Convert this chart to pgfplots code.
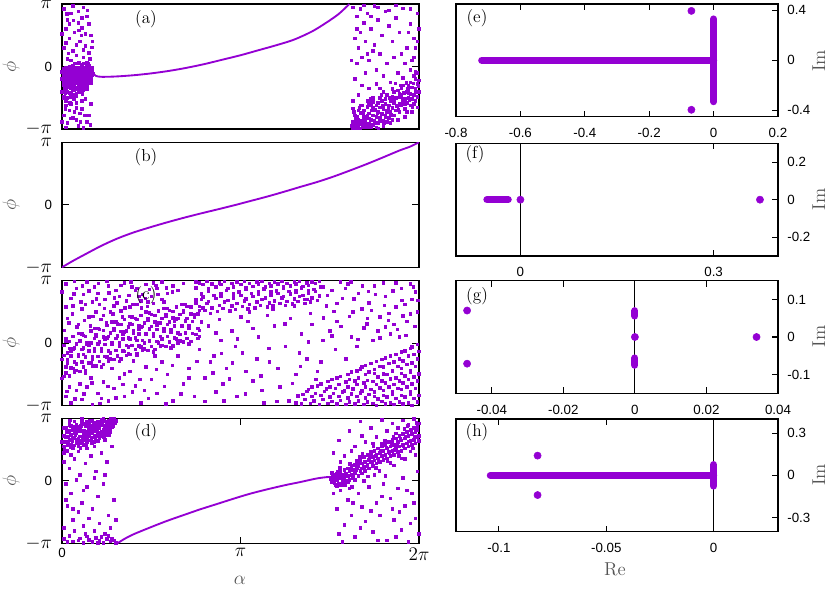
\documentclass[border=0pt]{standalone}
\usepackage{fontspec}
\usepackage{pgfplots}
\pgfplotsset{compat=1.18}
\newfontfamily\lsf{Liberation Sans}
\definecolor{dviolet}{RGB}{148,0,211}
\definecolor{labgray}{RGB}{85,85,85}
\newcommand{\tickf}{\lsf\fontsize{10}{12}\selectfont}
\newcommand{\labf}{\fontsize{14}{16}\selectfont}
\newcommand{\panf}{\fontsize{13}{15}\selectfont}
\newcommand{\bpi}[1]{{\fontsize{14}{16}\selectfont$#1$}}

\pgfplotsset{
  leftax/.style={scale only axis, width=267.75pt, height=93.75pt, anchor=north west,
    xmin=0, xmax=2, ymin=-1, ymax=1, ytick={-1,0,1}, yticklabels={\bpi{-\pi},0,\bpi{\pi}},
    xtick=\empty, tick align=inside, major tick length=5pt,
    axis line style={line width=0.9pt}, tick style={black, line width=0.8pt},
    tick label style={font=\tickf}, yticklabel style={xshift=-4pt}},
  rightax/.style={scale only axis, width=241.5pt, height=84.5pt, anchor=north west,
    tick align=inside, major tick length=4.5pt, ytick pos=right, yticklabel pos=right,
    scaled ticks=false,
    axis line style={line width=0.9pt}, tick style={black, line width=0.8pt},
    tick label style={font=\tickf}, yticklabel style={anchor=west, xshift=3.5pt},
    xticklabel style={yshift=-5pt}},
  scat/.style={only marks, mark=square*, mark size=0.95pt, dviolet, mark options={draw=none}},
  curve/.style={dviolet, line width=1.4pt, smooth, no marks},
  bar/.style={dviolet, line width=5.4pt, line cap=round, no marks},
  dots/.style={only marks, mark=*, mark size=2.7pt, dviolet},
}

\begin{document}
\begin{tikzpicture}
\useasboundingbox (0,0) rectangle (622.5pt,-441.75pt);

% ---------- (a)
\begin{axis}[leftax, at={(46.5pt,-3pt)}]
\addplot[scat] table[row sep=\\] {x y\\
0.01 -0.12\\ 0.03 -0.25\\ 0.05 -0.05\\ 0.07 -0.31\\ 0.09 -0.18\\ 0.11 -0.08\\ 0.13 -0.02\\ 0.15 -0.10\\ 0.16 -0.06\\ 0.02 -0.38\\
0.04 -0.15\\ 0.06 -0.22\\ 0.08 -0.02\\ 0.10 -0.27\\ 0.12 -0.14\\ 0.14 -0.19\\ 0.16 -0.12\\ 0.17 -0.09\\ 0.01 -0.30\\ 0.03 -0.08\\
0.05 -0.35\\ 0.07 -0.12\\ 0.09 -0.40\\ 0.11 -0.21\\ 0.13 -0.09\\ 0.15 0.02\\ 0.00 -0.20\\ 0.02 -0.02\\ 0.04 -0.42\\ 0.06 -0.17\\
0.08 -0.26\\ 0.10 -0.11\\ 0.12 -0.33\\ 0.14 -0.04\\ 0.16 -0.16\\ 0.01 -0.48\\ 0.03 -0.18\\ 0.05 -0.28\\ 0.07 -0.06\\ 0.09 -0.15\\
0.11 0.03\\ 0.13 -0.22\\ 0.15 -0.14\\ 0.17 -0.04\\ 0.02 -0.22\\ 0.04 -0.32\\ 0.06 0.01\\ 0.08 -0.36\\ 0.10 -0.20\\ 0.12 -0.05\\
0.14 -0.12\\ 0.16 -0.01\\ 0.00 -0.40\\ 0.02 -0.10\\ 0.04 -0.06\\ 0.06 -0.45\\ 0.08 -0.14\\ 0.10 -0.34\\ 0.12 0.05\\ 0.14 -0.26\\
0.15 -0.07\\ 0.01 -0.04\\ 0.03 -0.40\\ 0.05 -0.19\\ 0.07 -0.24\\ 0.09 -0.05\\ 0.11 -0.29\\ 0.13 -0.15\\ 0.15 -0.20\\ 0.17 -0.13\\
0.02 -0.30\\ 0.04 -0.23\\ 0.06 -0.09\\ 0.08 -0.20\\ 0.10 -0.02\\ 0.12 -0.24\\ 0.14 0.06\\ 0.16 -0.21\\ 0.01 -0.16\\ 0.03 -0.50\\
0.05 -0.12\\ 0.07 -0.38\\ 0.09 -0.24\\ 0.11 -0.13\\ 0.13 -0.30\\ 0.15 -0.03\\ 0.00 -0.08\\ 0.02 -0.55\\ 0.04 0.00\\ 0.06 -0.30\\
0.08 -0.44\\ 0.10 -0.07\\ 0.12 -0.18\\ 0.14 -0.09\\ 0.16 -0.08\\
0.115 -0.17\\ 0.148 -0.05\\ 0.162 -0.13\\ 0.127 -0.26\\ 0.093 -0.09\\ 0.071 -0.19\\ 0.154 -0.24\\ 0.138 0.01\\ 0.166 -0.02\\ 0.104 -0.31\\
0.083 -0.22\\ 0.057 -0.11\\ 0.122 -0.08\\ 0.145 -0.15\\ 0.168 -0.07\\ 0.131 -0.20\\ 0.109 0.00\\ 0.087 -0.33\\ 0.064 -0.27\\ 0.043 -0.08\\
0.026 -0.19\\ 0.012 -0.35\\ 0.035 -0.29\\ 0.052 -0.41\\ 0.077 -0.47\\ 0.098 -0.16\\ 0.119 -0.38\\ 0.141 -0.31\\ 0.159 -0.18\\ 0.171 -0.11\\
0.006 -0.24\\ 0.018 -0.43\\ 0.039 -0.13\\ 0.061 -0.37\\ 0.084 -0.04\\ 0.106 -0.23\\ 0.128 -0.12\\ 0.151 -0.09\\ 0.164 -0.20\\ 0.113 -0.44\\
0.092 -0.28\\ 0.069 -0.02\\ 0.048 -0.20\\ 0.031 -0.33\\ 0.015 -0.07\\ 0.124 -0.01\\ 0.143 -0.23\\ 0.157 -0.04\\ 0.136 -0.11\\ 0.101 -0.14\\
0.079 -0.10\\ 0.056 -0.25\\ 0.022 -0.28\\ 0.008 -0.51\\ 0.044 -0.58\\ 0.067 -0.52\\ 0.095 0.06\\ 0.117 -0.27\\ 0.139 -0.36\\ 0.161 -0.27\\
0.147 0.04\\ 0.133 -0.05\\ 0.102 -0.40\\ 0.074 -0.14\\ 0.049 -0.48\\ 0.028 -0.12\\ 0.011 -0.20\\ 0.086 -0.19\\ 0.125 -0.16\\ 0.152 -0.12\\
0.01 0.92\\ 0.05 0.85\\ 0.12 0.95\\ 0.03 0.75\\ 0.09 0.70\\ 0.14 0.80\\ 0.02 0.60\\ 0.07 0.55\\ 0.11 0.62\\ 0.16 0.50\\
0.04 0.45\\ 0.10 0.40\\ 0.13 0.33\\ 0.01 0.30\\ 0.06 0.25\\ 0.08 0.18\\ 0.15 0.22\\ 0.03 0.12\\ 0.12 0.15\\ 0.05 0.10\\
0.02 0.38\\ 0.09 0.88\\ 0.15 0.68\\ 0.06 0.97\\ 0.11 0.78\\ 0.00 0.52\\ 0.17 0.40\\ 0.04 0.68\\ 0.13 0.52\\ 0.08 0.35\\
0.034 0.21\\ 0.072 0.05\\ 0.118 0.27\\ 0.155 0.12\\ 0.093 0.58\\ 0.027 0.84\\ 0.142 0.90\\ 0.064 0.74\\ 0.108 0.50\\ 0.166 0.31\\
0.02 -0.62\\ 0.08 -0.58\\ 0.13 -0.52\\ 0.04 -0.70\\ 0.11 -0.68\\ 0.16 -0.60\\ 0.01 -0.78\\ 0.06 -0.82\\ 0.10 -0.75\\ 0.14 -0.88\\
0.03 -0.90\\ 0.09 -0.95\\ 0.12 -0.98\\ 0.05 -0.60\\ 0.07 -0.72\\ 0.00 -0.88\\ 0.15 -0.78\\ 0.02 -0.97\\ 0.11 -0.55\\ 0.08 -0.85\\
0.019 -0.68\\ 0.081 -0.66\\ 0.127 -0.78\\ 0.158 -0.93\\ 0.046 -0.83\\ 0.103 -0.88\\
1.63 -0.98\\ 1.64 -0.90\\ 1.65 -0.95\\ 1.66 -0.85\\ 1.67 -0.99\\ 1.68 -0.92\\ 1.69 -0.80\\ 1.70 -0.88\\ 1.71 -0.96\\ 1.72 -0.75\\
1.73 -0.85\\ 1.74 -0.93\\ 1.75 -0.70\\ 1.76 -0.80\\ 1.77 -0.90\\ 1.78 -0.65\\ 1.79 -0.76\\ 1.80 -0.86\\ 1.81 -0.60\\ 1.82 -0.72\\
1.83 -0.82\\ 1.84 -0.55\\ 1.85 -0.66\\ 1.86 -0.78\\ 1.87 -0.50\\ 1.88 -0.62\\ 1.89 -0.72\\ 1.90 -0.45\\ 1.91 -0.56\\ 1.92 -0.68\\
1.93 -0.40\\ 1.94 -0.50\\ 1.95 -0.62\\ 1.96 -0.33\\ 1.97 -0.45\\ 1.98 -0.55\\ 1.99 -0.28\\ 2.00 -0.40\\
1.64 -0.78\\ 1.66 -0.70\\ 1.68 -0.62\\ 1.70 -0.97\\ 1.72 -0.58\\ 1.74 -0.66\\ 1.76 -0.97\\ 1.78 -0.50\\ 1.80 -0.95\\ 1.82 -0.45\\
1.84 -0.90\\ 1.86 -0.40\\ 1.88 -0.85\\ 1.90 -0.35\\ 1.92 -0.80\\ 1.94 -0.30\\ 1.96 -0.72\\ 1.98 -0.20\\ 1.99 -0.65\\ 1.97 -0.15\\
1.95 -0.25\\ 1.93 -0.58\\ 1.91 -0.30\\ 1.89 -0.48\\ 1.87 -0.70\\ 1.85 -0.48\\ 1.83 -0.62\\ 1.81 -0.78\\ 1.79 -0.55\\ 1.77 -0.72\\
1.75 -0.86\\ 1.73 -0.62\\ 1.71 -0.78\\ 1.69 -0.95\\ 1.67 -0.74\\ 1.65 -0.82\\ 1.63 -0.88\\ 1.62 -0.95\\
1.66 -0.92\\ 1.70 -0.82\\ 1.74 -0.78\\ 1.78 -0.82\\ 1.82 -0.88\\ 1.86 -0.58\\ 1.90 -0.62\\ 1.94 -0.42\\ 1.98 -0.35\\ 1.99 -0.48\\
1.96 -0.52\\ 1.92 -0.52\\ 1.88 -0.38\\ 1.84 -0.72\\ 1.80 -0.68\\ 1.76 -0.62\\ 1.72 -0.92\\ 1.68 -0.86\\ 1.64 -0.96\\ 2.00 -0.22\\
1.97 -0.60\\ 1.93 -0.72\\ 1.89 -0.60\\ 1.85 -0.85\\ 1.81 -0.52\\ 1.77 -0.58\\ 1.73 -0.97\\ 1.69 -0.70\\ 1.65 -0.99\\ 1.99 -0.10\\
1.95 -0.05\\ 1.91 -0.18\\
1.625 -0.91\\ 1.643 -0.84\\ 1.658 -0.97\\ 1.672 -0.88\\ 1.687 -0.76\\ 1.704 -0.93\\ 1.718 -0.83\\ 1.733 -0.70\\ 1.749 -0.91\\ 1.766 -0.74\\
1.781 -0.87\\ 1.797 -0.62\\ 1.812 -0.81\\ 1.828 -0.66\\ 1.843 -0.77\\ 1.859 -0.52\\ 1.874 -0.63\\ 1.889 -0.43\\ 1.905 -0.51\\ 1.921 -0.60\\
1.936 -0.36\\ 1.952 -0.44\\ 1.967 -0.27\\ 1.983 -0.40\\ 1.996 -0.31\\ 1.636 -0.72\\ 1.665 -0.66\\ 1.694 -0.87\\ 1.727 -0.52\\ 1.756 -0.69\\
1.788 -0.45\\ 1.819 -0.71\\ 1.851 -0.36\\ 1.883 -0.69\\ 1.914 -0.42\\ 1.946 -0.54\\ 1.978 -0.08\\ 1.962 -0.64\\ 1.928 -0.26\\ 1.897 -0.30\\
1.866 -0.27\\ 1.835 -0.50\\ 1.804 -0.91\\ 1.772 -0.99\\ 1.741 -0.56\\ 1.711 -0.64\\ 1.681 -0.97\\ 1.651 -0.80\\ 1.629 -0.67\\
1.63 0.95\\ 1.65 0.80\\ 1.67 0.92\\ 1.69 0.70\\ 1.71 0.85\\ 1.73 0.60\\ 1.75 0.97\\ 1.77 0.75\\ 1.79 0.50\\ 1.81 0.88\\
1.83 0.65\\ 1.85 0.40\\ 1.87 0.78\\ 1.89 0.55\\ 1.91 0.93\\ 1.93 0.30\\ 1.95 0.68\\ 1.97 0.45\\ 1.99 0.85\\ 1.64 0.45\\
1.66 0.30\\ 1.68 0.15\\ 1.70 0.40\\ 1.72 0.10\\ 1.74 0.25\\ 1.76 -0.05\\ 1.78 0.20\\ 1.80 -0.15\\ 1.82 0.05\\ 1.84 -0.25\\
1.86 0.15\\ 1.88 -0.10\\ 1.90 0.20\\ 1.92 0.05\\ 1.94 0.55\\ 1.96 0.10\\ 1.98 0.30\\ 2.00 0.60\\ 1.64 -0.20\\ 1.66 -0.45\\
1.68 -0.30\\ 1.70 -0.10\\ 1.72 -0.35\\ 1.74 -0.50\\ 1.76 -0.28\\ 1.78 -0.35\\ 1.80 -0.40\\ 1.62 0.10\\ 1.63 -0.55\\ 1.65 0.60\\
1.67 0.55\\ 1.69 0.98\\ 1.71 0.20\\ 1.73 0.80\\ 1.75 0.35\\ 1.77 0.95\\ 1.83 0.90\\ 1.87 0.98\\ 1.95 0.92\\ 1.97 0.15\\
1.99 0.40\\ 1.65 0.05\\ 1.71 -0.55\\ 1.67 -0.62\\
};
\addplot[curve] coordinates {(0.174,-0.11) (0.19,-0.15) (0.22,-0.165) (0.30,-0.16) (0.40,-0.14) (0.50,-0.11) (0.60,-0.07) (0.70,-0.02) (0.80,0.04) (0.90,0.11) (1.00,0.18) (1.10,0.26) (1.20,0.34) (1.30,0.43) (1.40,0.56) (1.48,0.70) (1.55,0.84) (1.61,1.0)};
\end{axis}

% ---------- (b)
\begin{axis}[leftax, at={(46.5pt,-106.7pt)}]
\addplot[curve] coordinates {(0,-1) (0.06,-0.90) (0.125,-0.80) (0.218,-0.66) (0.31,-0.54) (0.404,-0.44) (0.50,-0.355) (0.590,-0.28) (0.68,-0.21) (0.776,-0.14) (0.87,-0.075) (0.962,-0.01) (1.055,0.06) (1.148,0.13) (1.24,0.205) (1.334,0.285) (1.43,0.365) (1.520,0.45) (1.61,0.545) (1.706,0.65) (1.80,0.76) (1.892,0.87) (1.95,0.93) (2,1)};
\end{axis}

% ---------- (c)
\begin{axis}[leftax, at={(46.5pt,-210.5pt)}]
\addplot[scat] table[row sep=\\] {x y\\
0.01 -0.53\\ 0.02 -0.38\\ 0.00 -0.26\\ 0.03 -0.15\\ 0.01 -0.03\\ 0.02 0.07\\ 0.02 -0.47\\ 0.03 -0.31\\ 0.01 -0.19\\ 0.04 -0.08\\
0.02 0.04\\ 0.00 -0.56\\ 0.04 -0.52\\ 0.05 -0.39\\ 0.03 -0.26\\ 0.06 -0.09\\ 0.04 0.03\\ 0.05 -0.20\\ 0.06 -0.40\\ 0.07 -0.30\\
0.05 -0.12\\ 0.08 -0.01\\ 0.06 0.11\\ 0.07 -0.46\\ 0.08 -0.43\\ 0.09 -0.20\\ 0.07 -0.07\\ 0.10 0.03\\ 0.08 -0.33\\ 0.09 0.16\\
0.10 -0.45\\ 0.11 -0.30\\ 0.09 -0.18\\ 0.12 -0.07\\ 0.10 0.05\\ 0.11 0.15\\ 0.12 -0.38\\ 0.13 -0.22\\ 0.11 -0.10\\ 0.14 0.01\\
0.12 0.13\\ 0.13 -0.47\\ 0.13 -0.44\\ 0.15 -0.31\\ 0.12 -0.18\\ 0.14 -0.01\\ 0.13 0.11\\ 0.15 -0.12\\ 0.16 -0.31\\ 0.17 -0.21\\
0.15 -0.03\\ 0.18 0.08\\ 0.16 0.20\\ 0.17 -0.37\\ 0.17 -0.35\\ 0.18 -0.12\\ 0.16 0.01\\ 0.19 0.11\\ 0.17 -0.25\\ 0.18 0.24\\
0.19 -0.36\\ 0.20 -0.21\\ 0.18 -0.09\\ 0.21 0.02\\ 0.19 0.14\\ 0.20 0.24\\ 0.21 -0.29\\ 0.22 -0.13\\ 0.20 -0.01\\ 0.23 0.10\\
0.21 0.22\\ 0.22 -0.38\\ 0.23 -0.34\\ 0.24 -0.21\\ 0.22 -0.08\\ 0.25 0.09\\ 0.23 0.21\\ 0.24 -0.02\\ 0.25 -0.22\\ 0.26 -0.12\\
0.24 0.06\\ 0.27 0.17\\ 0.25 0.29\\ 0.26 -0.28\\ 0.27 -0.25\\ 0.28 -0.02\\ 0.26 0.11\\ 0.29 0.21\\ 0.27 -0.15\\ 0.28 0.34\\
0.29 -0.26\\ 0.30 -0.11\\ 0.28 0.01\\ 0.31 0.12\\ 0.29 0.24\\ 0.30 0.34\\ 0.31 -0.20\\ 0.32 -0.04\\ 0.30 0.08\\ 0.33 0.19\\
0.31 0.31\\ 0.32 -0.29\\ 0.33 -0.25\\ 0.34 -0.12\\ 0.32 0.01\\ 0.35 0.18\\ 0.33 0.30\\ 0.34 0.07\\ 0.35 -0.13\\ 0.36 -0.03\\
0.34 0.15\\ 0.37 0.26\\ 0.35 0.38\\ 0.36 -0.19\\ 0.37 -0.16\\ 0.38 0.07\\ 0.36 0.20\\ 0.39 0.30\\ 0.37 -0.06\\ 0.38 0.43\\
0.38 -0.18\\ 0.39 -0.03\\ 0.37 0.09\\ 0.40 0.20\\ 0.38 0.32\\ 0.39 0.42\\ 0.41 -0.10\\ 0.42 0.05\\ 0.40 0.17\\ 0.43 0.28\\
0.41 0.40\\ 0.42 -0.19\\ 0.42 -0.17\\ 0.43 -0.04\\ 0.41 0.09\\ 0.44 0.26\\ 0.42 0.38\\ 0.43 0.15\\ 0.44 -0.06\\ 0.45 0.05\\
0.43 0.22\\ 0.46 0.33\\ 0.44 0.45\\ 0.45 -0.11\\ 0.46 -0.09\\ 0.47 0.14\\ 0.45 0.27\\ 0.48 0.37\\ 0.46 0.01\\ 0.47 0.50\\
0.48 -0.11\\ 0.49 0.04\\ 0.47 0.16\\ 0.50 0.27\\ 0.48 0.39\\ 0.49 0.49\\ 0.50 -0.05\\ 0.51 0.11\\ 0.49 0.23\\ 0.52 0.34\\
0.50 0.46\\ 0.51 -0.14\\ 0.52 -0.10\\ 0.53 0.03\\ 0.51 0.16\\ 0.54 0.33\\ 0.52 0.45\\ 0.53 0.22\\ 0.54 0.01\\ 0.55 0.11\\
0.53 0.29\\ 0.56 0.40\\ 0.54 0.52\\ 0.55 -0.05\\ 0.56 -0.03\\ 0.57 0.20\\ 0.55 0.33\\ 0.58 0.43\\ 0.56 0.07\\ 0.57 0.56\\
0.58 -0.05\\ 0.59 0.11\\ 0.57 0.23\\ 0.60 0.34\\ 0.58 0.46\\ 0.59 0.56\\ 0.60 0.02\\ 0.61 0.18\\ 0.59 0.30\\ 0.62 0.41\\
0.60 0.53\\ 0.61 -0.07\\ 0.62 -0.04\\ 0.63 0.09\\ 0.61 0.22\\ 0.64 0.39\\ 0.62 0.51\\ 0.63 0.28\\ 0.64 0.07\\ 0.65 0.17\\
0.63 0.35\\ 0.66 0.46\\ 0.64 0.58\\ 0.65 0.01\\ 0.66 0.04\\ 0.67 0.27\\ 0.65 0.40\\ 0.68 0.50\\ 0.66 0.14\\ 0.67 0.62\\
0.68 0.02\\ 0.69 0.17\\ 0.67 0.29\\ 0.70 0.40\\ 0.68 0.52\\ 0.69 0.62\\ 0.70 0.08\\ 0.71 0.24\\ 0.69 0.36\\ 0.72 0.47\\
0.70 0.59\\ 0.71 -0.01\\ 0.72 0.03\\ 0.73 0.16\\ 0.71 0.29\\ 0.74 0.46\\ 0.72 0.58\\ 0.73 0.35\\ 0.75 0.14\\ 0.76 0.24\\
0.74 0.42\\ 0.77 0.53\\ 0.75 0.65\\ 0.76 0.08\\ 0.77 0.11\\ 0.78 0.34\\ 0.76 0.47\\ 0.79 0.57\\ 0.77 0.21\\ 0.78 0.70\\
0.76 0.48\\ 0.77 0.59\\ 0.75 0.70\\ 0.78 0.79\\ 0.75 0.89\\ 0.77 0.97\\ 0.80 0.53\\ 0.81 0.64\\ 0.79 0.74\\ 0.82 0.84\\
0.79 0.94\\ 0.81 0.99\\ 0.83 0.48\\ 0.84 0.57\\ 0.82 0.67\\ 0.85 0.77\\ 0.82 0.87\\ 0.84 0.95\\ 0.87 0.51\\ 0.88 0.61\\
0.86 0.72\\ 0.89 0.80\\ 0.86 0.90\\ 0.88 0.97\\ 0.90 0.56\\ 0.91 0.66\\ 0.89 0.76\\ 0.92 0.85\\ 0.89 0.94\\ 0.91 0.99\\
0.94 0.52\\ 0.95 0.60\\ 0.93 0.69\\ 0.96 0.79\\ 0.93 0.88\\ 0.95 0.96\\ 0.97 0.54\\ 0.98 0.64\\ 0.96 0.73\\ 0.99 0.82\\
0.96 0.90\\ 0.98 0.98\\ 1.01 0.59\\ 1.02 0.68\\ 1.00 0.77\\ 1.03 0.86\\ 1.00 0.94\\ 1.02 0.99\\ 1.04 0.55\\ 1.05 0.62\\
1.03 0.71\\ 1.06 0.80\\ 1.03 0.89\\ 1.05 0.96\\ 1.08 0.57\\ 1.09 0.66\\ 1.07 0.75\\ 1.10 0.83\\ 1.07 0.91\\ 1.09 0.98\\
1.11 0.61\\ 1.12 0.70\\ 1.10 0.79\\ 1.13 0.87\\ 1.10 0.95\\ 1.12 0.99\\ 1.15 0.58\\ 1.16 0.65\\ 1.14 0.73\\ 1.17 0.82\\
1.14 0.90\\ 1.16 0.96\\ 1.18 0.60\\ 1.19 0.68\\ 1.17 0.77\\ 1.20 0.84\\ 1.17 0.92\\ 1.19 0.98\\ 1.22 0.64\\ 1.23 0.73\\
1.21 0.80\\ 1.24 0.88\\ 1.21 0.95\\ 1.23 0.99\\ 1.25 0.61\\ 1.26 0.67\\ 1.24 0.75\\ 1.27 0.83\\ 1.24 0.90\\ 1.26 0.96\\
1.29 0.63\\ 1.30 0.71\\ 1.28 0.79\\ 1.31 0.85\\ 1.28 0.92\\ 1.30 0.98\\ 1.32 0.67\\ 1.33 0.75\\ 1.31 0.82\\ 1.34 0.89\\
1.31 0.95\\ 1.33 0.99\\ 1.36 0.64\\ 1.37 0.70\\ 1.35 0.77\\ 1.38 0.84\\ 1.35 0.91\\ 1.37 0.97\\ 1.39 0.66\\ 1.40 0.73\\
1.38 0.80\\ 1.41 0.86\\ 1.38 0.93\\ 1.40 0.98\\ 1.43 0.69\\ 1.44 0.77\\ 1.42 0.83\\ 1.45 0.90\\ 1.42 0.96\\ 1.44 0.99\\
1.31 -0.95\\ 1.32 -0.84\\ 1.34 -0.97\\ 1.35 -0.82\\ 1.36 -0.90\\ 1.37 -0.77\\ 1.39 -0.96\\ 1.40 -0.85\\ 1.38 -0.74\\ 1.41 -0.92\\
1.42 -0.80\\ 1.40 -0.70\\ 1.44 -0.98\\ 1.45 -0.83\\ 1.43 -0.68\\ 1.46 -0.90\\ 1.47 -0.77\\ 1.45 -0.65\\ 1.49 -0.96\\ 1.50 -0.86\\
1.48 -0.73\\ 1.49 -0.61\\ 1.51 -0.93\\ 1.52 -0.80\\ 1.50 -0.70\\ 1.51 -0.58\\ 1.54 -0.97\\ 1.55 -0.85\\ 1.53 -0.72\\ 1.54 -0.55\\
1.56 -0.91\\ 1.57 -0.78\\ 1.55 -0.66\\ 1.56 -0.53\\ 1.59 -0.98\\ 1.60 -0.87\\ 1.58 -0.76\\ 1.59 -0.62\\ 1.60 -0.50\\ 1.61 -0.94\\
1.62 -0.81\\ 1.60 -0.70\\ 1.61 -0.58\\ 1.62 -0.46\\ 1.64 -0.97\\ 1.65 -0.85\\ 1.63 -0.73\\ 1.64 -0.60\\ 1.65 -0.44\\ 1.66 -0.92\\
1.67 -0.79\\ 1.65 -0.66\\ 1.66 -0.55\\ 1.67 -0.41\\ 1.69 -0.98\\ 1.70 -0.87\\ 1.68 -0.76\\ 1.69 -0.63\\ 1.70 -0.50\\ 1.68 -0.38\\
1.71 -0.94\\ 1.72 -0.82\\ 1.70 -0.70\\ 1.71 -0.59\\ 1.72 -0.46\\ 1.70 -0.35\\ 1.74 -0.96\\ 1.75 -0.85\\ 1.73 -0.74\\ 1.74 -0.61\\
1.75 -0.48\\ 1.73 -0.32\\ 1.76 -0.99\\ 1.77 -0.89\\ 1.75 -0.78\\ 1.76 -0.66\\ 1.77 -0.54\\ 1.75 -0.42\\ 1.76 -0.29\\ 1.79 -0.93\\
1.80 -0.83\\ 1.78 -0.71\\ 1.79 -0.60\\ 1.80 -0.49\\ 1.78 -0.37\\ 1.79 -0.26\\ 1.81 -0.97\\ 1.82 -0.86\\ 1.80 -0.75\\ 1.81 -0.63\\
1.82 -0.50\\ 1.80 -0.38\\ 1.81 -0.23\\ 1.84 -0.95\\ 1.85 -0.81\\ 1.83 -0.70\\ 1.84 -0.57\\ 1.85 -0.44\\ 1.83 -0.32\\ 1.84 -0.20\\
1.86 -0.98\\ 1.87 -0.88\\ 1.85 -0.77\\ 1.86 -0.66\\ 1.87 -0.55\\ 1.85 -0.43\\ 1.86 -0.30\\ 1.87 -0.18\\ 1.89 -0.94\\ 1.90 -0.83\\
1.88 -0.72\\ 1.89 -0.60\\ 1.90 -0.48\\ 1.88 -0.37\\ 1.89 -0.25\\ 1.90 -0.14\\ 1.91 -0.97\\ 1.92 -0.86\\ 1.90 -0.74\\ 1.91 -0.63\\
1.92 -0.52\\ 1.90 -0.40\\ 1.91 -0.28\\ 1.92 -0.12\\ 1.94 -0.95\\ 1.95 -0.82\\ 1.93 -0.70\\ 1.94 -0.58\\ 1.95 -0.46\\ 1.93 -0.34\\
1.94 -0.20\\ 1.95 -0.08\\ 1.96 -0.99\\ 1.97 -0.88\\ 1.95 -0.77\\ 1.96 -0.65\\ 1.97 -0.54\\ 1.95 -0.43\\ 1.96 -0.31\\ 1.97 -0.18\\
1.96 -0.06\\ 1.99 -0.94\\ 2.00 -0.83\\ 1.98 -0.72\\ 1.99 -0.60\\ 2.00 -0.49\\ 1.98 -0.37\\ 1.99 -0.25\\ 2.00 -0.13\\ 1.99 -0.02\\
0.02 0.95\\ 0.05 0.72\\ 0.08 0.88\\ 0.11 0.55\\ 0.14 0.98\\ 0.17 0.66\\ 0.20 0.80\\ 0.23 0.45\\ 0.26 0.92\\ 0.29 0.60\\
0.32 0.75\\ 0.35 0.97\\ 0.38 0.58\\ 0.41 0.85\\ 0.44 0.68\\ 0.47 0.94\\ 0.50 0.75\\ 0.53 0.88\\ 0.56 0.98\\ 0.59 0.80\\
0.62 0.92\\ 0.65 0.85\\ 0.68 0.96\\ 0.03 0.40\\ 0.06 0.60\\ 0.09 0.30\\ 0.12 0.78\\ 0.15 0.42\\ 0.18 0.90\\ 0.21 0.62\\
0.24 0.70\\ 0.27 0.50\\ 0.30 0.85\\ 0.33 0.52\\ 0.36 0.68\\ 0.39 0.90\\ 0.42 0.62\\ 0.45 0.78\\ 0.48 0.66\\ 0.51 0.97\\
0.00 0.82\\ 0.07 0.99\\ 0.13 0.62\\ 0.19 0.50\\ 0.25 0.99\\
0.013 0.21\\ 0.037 0.33\\ 0.058 0.47\\ 0.082 0.26\\ 0.104 0.66\\ 0.126 0.37\\ 0.149 0.84\\ 0.171 0.43\\ 0.193 0.71\\ 0.216 0.38\\
0.238 0.56\\ 0.262 0.81\\ 0.284 0.47\\ 0.306 0.65\\ 0.329 0.93\\ 0.352 0.57\\ 0.374 0.77\\ 0.397 0.62\\ 0.419 0.88\\ 0.443 0.57\\
0.466 0.72\\ 0.488 0.86\\ 0.512 0.64\\ 0.536 0.78\\ 0.559 0.70\\ 0.583 0.89\\ 0.021 0.58\\ 0.066 0.79\\ 0.113 0.92\\ 0.158 0.28\\
0.204 0.96\\ 0.247 0.33\\ 0.293 0.73\\ 0.338 0.42\\ 0.384 0.98\\ 0.431 0.75\\ 0.477 0.59\\ 0.524 0.93\\ 0.571 0.66\\ 0.617 0.82\\
0.02 -0.85\\ 0.05 -0.95\\ 0.08 -0.75\\ 0.11 -0.90\\ 0.14 -0.70\\ 0.17 -0.98\\ 0.20 -0.80\\ 0.23 -0.62\\ 0.26 -0.92\\ 0.29 -0.72\\
0.32 -0.55\\ 0.35 -0.85\\ 0.38 -0.45\\ 0.41 -0.68\\ 0.44 -0.95\\ 0.47 -0.38\\ 0.50 -0.58\\ 0.53 -0.80\\ 0.56 -0.30\\ 0.59 -0.50\\
0.62 -0.92\\ 0.65 -0.20\\ 0.68 -0.65\\ 0.71 -0.40\\ 0.74 -0.85\\ 0.77 -0.10\\ 0.80 -0.55\\ 0.83 -0.30\\ 0.86 -0.78\\ 0.89 0.05\\
0.04 -0.70\\ 0.10 -0.65\\ 0.16 -0.55\\ 0.22 -0.88\\ 0.28 -0.40\\ 0.34 -0.66\\ 0.40 -0.28\\ 0.46 -0.75\\ 0.52 -0.20\\ 0.58 -0.97\\
0.027 -0.77\\ 0.073 -0.89\\ 0.121 -0.81\\ 0.168 -0.63\\ 0.213 -0.96\\ 0.257 -0.69\\ 0.302 -0.87\\ 0.348 -0.49\\ 0.393 -0.78\\ 0.437 -0.58\\
0.483 -0.88\\ 0.528 -0.42\\ 0.574 -0.69\\ 0.619 -0.35\\ 0.664 -0.81\\ 0.709 -0.55\\ 0.756 -0.29\\ 0.801 -0.93\\ 0.846 -0.47\\ 0.893 -0.16\\
0.92 -0.40\\ 0.95 0.20\\ 0.98 -0.85\\ 1.01 -0.15\\ 1.04 0.35\\ 1.07 -0.60\\ 1.10 0.10\\ 1.13 -0.95\\ 1.16 -0.30\\ 1.19 0.28\\
1.22 -0.70\\ 1.25 -0.05\\ 1.28 0.40\\ 1.31 -0.50\\ 1.34 0.15\\ 1.37 -0.25\\ 1.40 0.30\\ 1.43 -0.45\\ 1.46 0.05\\ 0.90 -0.65\\
0.97 -0.05\\ 1.03 -0.45\\ 1.09 -0.25\\ 1.15 0.45\\ 1.21 -0.40\\ 1.27 -0.92\\ 1.33 -0.15\\ 1.39 0.48\\ 1.45 -0.30\\ 0.85 -0.20\\
1.00 0.42\\ 1.12 -0.75\\ 0.936 -0.57\\ 0.981 0.07\\ 1.026 -0.81\\ 1.069 0.24\\ 1.114 -0.52\\ 1.158 -0.08\\ 1.203 -0.93\\ 1.247 0.31\\
1.291 -0.64\\ 1.336 -0.37\\ 1.379 0.02\\ 1.421 -0.58\\ 0.862 0.17\\ 0.907 -0.92\\ 0.953 -0.31\\
1.48 0.60\\ 1.51 0.85\\ 1.54 0.35\\ 1.57 0.72\\ 1.60 0.95\\ 1.63 0.50\\ 1.66 0.80\\ 1.69 0.25\\ 1.72 0.65\\ 1.75 0.92\\
1.78 0.42\\ 1.81 0.75\\ 1.84 0.15\\ 1.87 0.58\\ 1.90 0.88\\ 1.93 0.35\\ 1.96 0.70\\ 1.99 0.50\\ 1.50 0.20\\ 1.56 0.98\\
1.62 0.10\\ 1.68 0.55\\ 1.74 0.05\\ 1.80 0.97\\ 1.86 0.30\\ 1.92 0.62\\ 1.98 0.82\\ 1.53 -0.10\\ 1.59 -0.25\\ 1.65 -0.05\\
1.71 0.40\\ 1.77 0.20\\ 1.83 0.48\\ 1.89 0.10\\ 1.95 0.95\\
1.463 0.41\\ 1.487 0.77\\ 1.512 0.12\\ 1.538 0.64\\ 1.561 0.27\\ 1.586 0.88\\ 1.609 0.43\\ 1.634 0.71\\ 1.658 0.06\\ 1.683 0.92\\
1.707 0.31\\ 1.732 0.53\\ 1.756 0.78\\ 1.781 0.09\\ 1.806 0.61\\ 1.829 0.37\\ 1.854 0.84\\ 1.878 0.22\\ 1.903 0.69\\ 1.927 0.13\\
1.952 0.47\\ 1.975 0.27\\ 1.994 0.69\\ 1.523 0.51\\ 1.617 0.98\\ 1.715 0.83\\ 1.812 0.26\\ 1.909 0.44\\ 1.968 0.90\\ 1.871 0.97\\
0.75 0.98\\ 0.82 0.28\\ 0.88 0.38\\ 1.05 0.50\\ 1.18 0.55\\ 1.30 0.60\\ 1.36 0.70\\ 1.44 0.75\\ 1.40 0.98\\ 1.46 0.90\\
};
\end{axis}

% ---------- (d)
\begin{axis}[leftax, at={(46.5pt,-313.7pt)}, xtick={0,1,2}, xticklabels={0,\bpi{\pi},\bpi{2\pi}}]
\addplot[scat] table[row sep=\\] {x y\\
0.01 0.55\\ 0.01 0.72\\ 0.02 0.85\\ 0.02 0.62\\ 0.03 0.48\\ 0.03 0.78\\ 0.04 0.66\\ 0.04 0.92\\ 0.05 0.58\\ 0.05 0.74\\
0.06 0.82\\ 0.06 0.52\\ 0.07 0.69\\ 0.07 0.95\\ 0.08 0.60\\ 0.08 0.77\\ 0.09 0.86\\ 0.09 0.55\\ 0.10 0.71\\ 0.10 0.64\\
0.11 0.80\\ 0.11 0.93\\ 0.12 0.58\\ 0.12 0.75\\ 0.13 0.88\\ 0.13 0.67\\ 0.14 0.79\\ 0.14 0.62\\ 0.15 0.90\\ 0.15 0.72\\
0.16 0.84\\ 0.16 0.65\\ 0.17 0.97\\ 0.17 0.76\\ 0.18 0.86\\ 0.18 0.70\\ 0.19 0.92\\ 0.19 0.80\\ 0.20 0.74\\ 0.20 0.95\\
0.21 0.85\\ 0.21 0.68\\ 0.22 0.90\\ 0.22 0.78\\ 0.23 0.99\\ 0.23 0.82\\ 0.24 0.88\\ 0.24 0.74\\ 0.25 0.94\\ 0.25 0.84\\
0.26 0.97\\ 0.26 0.80\\ 0.27 0.90\\ 0.27 0.99\\ 0.28 0.86\\ 0.28 0.95\\ 0.29 0.92\\ 0.29 0.99\\ 0.30 0.96\\ 0.02 0.70\\
0.04 0.80\\ 0.06 0.68\\ 0.08 0.90\\ 0.10 0.82\\ 0.12 0.66\\ 0.14 0.94\\ 0.16 0.76\\ 0.18 0.62\\ 0.20 0.86\\ 0.22 0.98\\
0.00 0.62\\ 0.03 0.58\\ 0.05 0.88\\ 0.07 0.76\\ 0.09 0.68\\ 0.11 0.60\\ 0.13 0.74\\ 0.15 0.82\\ 0.17 0.88\\ 0.19 0.72\\
0.21 0.93\\ 0.23 0.76\\ 0.25 0.78\\ 0.27 0.84\\ 0.01 0.45\\ 0.05 0.42\\ 0.09 0.47\\ 0.14 0.52\\ 0.18 0.55\\ 0.24 0.66\\
0.015 0.63\\ 0.032 0.71\\ 0.048 0.54\\ 0.065 0.86\\ 0.083 0.66\\ 0.097 0.79\\ 0.114 0.70\\ 0.128 0.91\\ 0.146 0.75\\ 0.163 0.69\\
0.178 0.93\\ 0.194 0.83\\ 0.211 0.77\\ 0.226 0.92\\ 0.243 0.81\\ 0.259 0.89\\ 0.274 0.95\\ 0.288 0.88\\ 0.297 0.93\\ 0.023 0.78\\
0.041 0.89\\ 0.057 0.64\\ 0.074 0.73\\ 0.091 0.61\\ 0.106 0.88\\ 0.122 0.81\\ 0.139 0.68\\ 0.155 0.96\\ 0.171 0.82\\ 0.187 0.66\\
0.204 0.90\\ 0.219 0.72\\ 0.236 0.96\\ 0.251 0.86\\ 0.267 0.78\\ 0.283 0.98\\ 0.012 0.51\\ 0.036 0.60\\ 0.069 0.57\\ 0.102 0.53\\
0.133 0.57\\ 0.168 0.60\\ 0.199 0.64\\ 0.233 0.70\\ 0.262 0.74\\ 0.008 0.85\\ 0.044 0.97\\ 0.079 0.83\\ 0.112 0.99\\ 0.148 0.86\\
0.01 0.30\\ 0.04 0.20\\ 0.07 0.35\\ 0.10 0.10\\ 0.13 0.28\\ 0.16 0.40\\ 0.19 0.15\\ 0.22 0.45\\ 0.25 0.30\\ 0.28 0.55\\
0.02 -0.05\\ 0.05 -0.20\\ 0.08 0.02\\ 0.11 -0.35\\ 0.14 -0.10\\ 0.17 -0.45\\ 0.20 -0.25\\ 0.23 -0.05\\ 0.26 -0.55\\ 0.29 -0.30\\
0.03 -0.40\\ 0.06 -0.62\\ 0.09 -0.50\\ 0.12 -0.72\\ 0.15 -0.60\\ 0.18 -0.80\\ 0.21 -0.68\\ 0.24 -0.85\\ 0.27 -0.75\\ 0.30 -0.62\\
0.01 -0.75\\ 0.04 -0.88\\ 0.07 -0.80\\ 0.10 -0.92\\ 0.13 -0.85\\ 0.02 -0.30\\ 0.06 -0.45\\ 0.12 -0.15\\ 0.18 0.05\\ 0.24 0.10\\
0.06 -0.97\\ 0.09 -0.95\\ 0.12 -0.99\\ 0.15 -0.94\\ 0.17 -0.98\\ 0.19 -0.91\\ 0.21 -0.96\\ 0.23 -0.99\\ 0.25 -0.93\\ 0.27 -0.97\\
0.29 -0.95\\ 0.30 -0.99\\ 0.22 -0.90\\ 0.26 -0.88\\ 0.28 -0.92\\ 0.20 -0.99\\ 0.14 -0.89\\ 0.03 -0.98\\ 0.01 -0.93\\
1.51 0.05\\ 1.51 -0.02\\ 1.52 0.10\\ 1.52 0.00\\ 1.53 0.06\\ 1.53 -0.06\\ 1.54 0.12\\ 1.54 0.02\\ 1.55 0.08\\ 1.55 -0.04\\
1.56 0.14\\ 1.56 0.04\\ 1.57 0.10\\ 1.57 -0.02\\ 1.58 0.18\\ 1.58 0.06\\ 1.59 0.12\\ 1.59 0.00\\ 1.60 0.20\\ 1.60 0.08\\
1.61 0.15\\ 1.61 0.02\\ 1.62 0.24\\ 1.62 0.10\\ 1.63 0.18\\ 1.63 0.04\\ 1.64 0.26\\ 1.64 0.13\\ 1.65 0.20\\ 1.65 0.32\\
1.66 0.08\\ 1.66 0.24\\ 1.67 0.16\\ 1.67 0.34\\ 1.68 0.28\\ 1.68 0.12\\ 1.69 0.22\\ 1.69 0.38\\ 1.70 0.30\\ 1.70 0.16\\
1.71 0.26\\ 1.71 0.42\\ 1.72 0.20\\ 1.72 0.34\\ 1.73 0.30\\ 1.73 0.45\\ 1.74 0.24\\ 1.74 0.38\\ 1.75 0.33\\ 1.75 0.48\\
1.76 0.28\\ 1.76 0.42\\ 1.77 0.36\\ 1.77 0.52\\ 1.78 0.30\\ 1.78 0.45\\ 1.79 0.40\\ 1.79 0.55\\ 1.80 0.34\\ 1.80 0.48\\
1.81 0.42\\ 1.81 0.58\\ 1.82 0.36\\ 1.82 0.52\\ 1.83 0.46\\ 1.83 0.62\\ 1.84 0.40\\ 1.84 0.55\\ 1.85 0.48\\ 1.85 0.66\\
1.86 0.42\\ 1.86 0.58\\ 1.87 0.52\\ 1.87 0.68\\ 1.88 0.46\\ 1.88 0.62\\ 1.89 0.55\\ 1.89 0.72\\ 1.90 0.48\\ 1.90 0.65\\
1.91 0.58\\ 1.91 0.75\\ 1.92 0.52\\ 1.92 0.68\\ 1.93 0.60\\ 1.93 0.78\\ 1.94 0.55\\ 1.94 0.72\\ 1.95 0.64\\ 1.95 0.82\\
1.96 0.58\\ 1.96 0.75\\ 1.97 0.66\\ 1.97 0.85\\ 1.98 0.60\\ 1.98 0.78\\ 1.99 0.70\\ 1.99 0.88\\ 2.00 0.64\\
1.505 0.03\\ 1.515 0.09\\ 1.525 -0.04\\ 1.535 0.01\\ 1.546 0.15\\ 1.562 -0.07\\ 1.574 0.04\\ 1.588 0.11\\ 1.603 -0.02\\ 1.617 0.20\\
1.631 0.09\\ 1.647 0.17\\ 1.662 0.29\\ 1.678 0.20\\ 1.693 0.31\\ 1.708 0.23\\ 1.724 0.39\\ 1.739 0.28\\ 1.755 0.40\\ 1.771 0.32\\
1.786 0.49\\ 1.802 0.41\\ 1.817 0.53\\ 1.833 0.44\\ 1.848 0.60\\ 1.864 0.50\\ 1.879 0.58\\ 1.895 0.67\\ 1.911 0.55\\ 1.926 0.71\\
1.942 0.63\\ 1.957 0.79\\ 1.973 0.70\\ 1.988 0.82\\ 1.998 0.72\\ 1.512 0.13\\ 1.538 -0.09\\ 1.557 0.21\\ 1.583 -0.06\\ 1.612 0.27\\
1.641 0.02\\ 1.668 0.38\\ 1.697 0.16\\ 1.729 0.47\\ 1.758 0.21\\ 1.792 0.59\\ 1.823 0.31\\ 1.856 0.71\\ 1.887 0.40\\ 1.918 0.83\\
1.951 0.47\\ 1.984 0.93\\ 1.966 0.52\\ 1.934 0.88\\ 1.902 0.36\\ 1.871 0.76\\ 1.839 0.29\\ 1.808 0.64\\ 1.777 0.16\\ 1.745 0.55\\
1.713 0.07\\ 1.683 0.44\\ 1.652 0.33\\ 1.622 -0.10\\
1.52 0.45\\ 1.55 0.65\\ 1.58 0.40\\ 1.61 0.80\\ 1.64 0.55\\ 1.67 0.95\\ 1.70 0.62\\ 1.73 0.85\\ 1.76 0.70\\ 1.79 0.98\\
1.82 0.80\\ 1.85 0.92\\ 1.88 0.85\\ 1.91 0.97\\ 1.94 0.90\\ 1.97 0.99\\ 2.00 0.92\\ 1.56 0.30\\ 1.62 0.48\\ 1.68 0.72\\
1.74 0.60\\ 1.86 0.25\\ 1.92 0.35\\ 1.98 0.42\\
1.52 -0.20\\ 1.54 -0.45\\ 1.56 -0.15\\ 1.58 -0.70\\ 1.60 -0.30\\ 1.62 -0.55\\ 1.64 -0.90\\ 1.66 -0.20\\ 1.68 -0.42\\ 1.70 -0.65\\
1.72 -0.10\\ 1.74 -0.82\\ 1.76 -0.35\\ 1.78 -0.55\\ 1.80 -0.05\\ 1.82 -0.95\\ 1.84 -0.28\\ 1.86 -0.62\\ 1.88 -0.12\\ 1.90 -0.78\\
1.92 -0.40\\ 1.94 -0.98\\ 1.96 -0.20\\ 1.98 -0.60\\ 2.00 -0.85\\ 1.55 -0.85\\ 1.61 -0.12\\ 1.67 -0.75\\ 1.73 -0.48\\ 1.79 -0.25\\
1.85 -0.45\\ 1.91 0.05\\ 1.97 -0.35\\ 1.63 -0.35\\ 1.69 0.00\\ 1.75 0.10\\ 1.81 0.08\\ 1.87 -0.90\\ 1.93 -0.15\\ 1.99 0.15\\
1.57 -0.98\\ 1.77 -0.95\\ 1.89 -0.50\\ 1.95 -0.68\\
};
\addplot[curve] coordinates {(0.311,-1) (0.35,-0.93) (0.404,-0.852) (0.50,-0.74) (0.590,-0.640) (0.70,-0.53) (0.776,-0.455) (0.87,-0.37) (0.962,-0.286) (1.05,-0.21) (1.148,-0.138) (1.25,-0.07) (1.334,-0.021) (1.427,0.037) (1.49,0.06) (1.51,0.055)};
\end{axis}

% ---------- (e)
\begin{axis}[rightax, at={(342pt,-3pt)}, xmin=-0.8, xmax=0.2, ymin=-0.45, ymax=0.45,
  xtick={-0.8,-0.6,-0.4,-0.2,0,0.2}, xticklabels={-0.8,-0.6,-0.4,-0.2,0,0.2},
  ytick={-0.4,0,0.4}, yticklabels={-0.4,0,0.4}]
\addplot[bar] coordinates {(-0.72,0) (0,0)};
\addplot[bar] coordinates {(0,-0.33) (0,0.33)};
\addplot[dots] coordinates {(-0.069,0.395) (-0.069,-0.395)};
\end{axis}

% ---------- (f)
\begin{axis}[rightax, at={(342pt,-107.5pt)}, xmin=-0.1, xmax=0.4, ymin=-0.3, ymax=0.3,
  xtick={0,0.3}, xticklabels={0,0.3}, ytick={-0.2,0,0.2}, yticklabels={-0.2,0,0.2}]
\addplot[black, line width=0.6pt] coordinates {(0,-0.3) (0,0.3)};
\addplot[bar] coordinates {(-0.052,0) (-0.019,0)};
\addplot[dots] coordinates {(0,0) (0.372,0)};
\end{axis}

% ---------- (g)
\begin{axis}[rightax, at={(342pt,-210.5pt)}, xmin=-0.05, xmax=0.04, ymin=-0.15, ymax=0.15,
  xtick={-0.04,-0.02,0,0.02,0.04}, xticklabels={-0.04,-0.02,0,0.02,0.04},
  ytick={-0.1,0,0.1}, yticklabels={-0.1,0,0.1}]
\addplot[black, line width=0.6pt] coordinates {(0,-0.15) (0,0.15)};
\addplot[bar] coordinates {(0,0.056) (0,0.070)};
\addplot[bar] coordinates {(0,-0.056) (0,-0.075)};
\addplot[dots] coordinates {(-0.0469,0.0705) (-0.0469,-0.071) (0,0) (0.034,0)};
\end{axis}

% ---------- (h)
\begin{axis}[rightax, at={(342pt,-314.25pt)}, xmin=-0.12, xmax=0.03, ymin=-0.4, ymax=0.4,
  xtick={-0.1,-0.05,0}, xticklabels={-0.1,-0.05,0},
  ytick={-0.3,0,0.3}, yticklabels={-0.3,0,0.3}]
\addplot[black, line width=0.6pt] coordinates {(0,-0.4) (0,0.4)};
\addplot[bar] coordinates {(-0.104,0) (0,0)};
\addplot[bar] coordinates {(0,-0.076) (0,0.076)};
\addplot[dots] coordinates {(-0.082,0.14) (-0.082,-0.14)};
\end{axis}

% ---------- labels
\foreach \yy/\ll in {-14.25/a,-117.75/b,-221.25/c,-324/d}
  \node[font=\panf] at (109.5pt,\yy pt) {(\ll)};
\node[font=\panf] at (357.75pt,-13.5pt) {(e)};
\node[font=\panf] at (356.25pt,-115.5pt) {(f)};
\node[font=\panf] at (357.75pt,-222pt) {(g)};
\node[font=\panf] at (357.75pt,-324pt) {(h)};
\foreach \yy in {-49.9,-153.4,-257.25,-360.75}
  \node[font=\labf, text=labgray, rotate=90] at (8.25pt,\yy pt) {$\phi$};
\foreach \yy in {-45.75,-149.5,-252.5,-356.25}
  \node[font=\labf, text=labgray, rotate=90] at (614pt,\yy pt) {Im};
\node[font=\labf, text=labgray] at (461.25pt,-426.75pt) {Re};
\node[font=\labf, text=labgray] at (180pt,-435pt) {$\alpha$};
\end{tikzpicture}
\end{document}
